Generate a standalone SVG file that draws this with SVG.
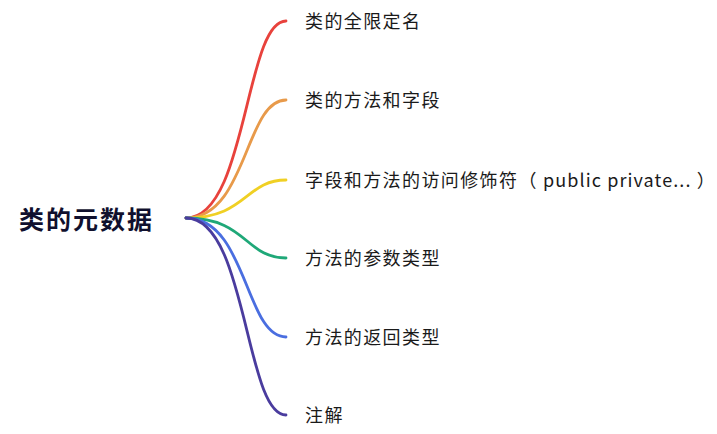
<svg xmlns="http://www.w3.org/2000/svg" width="717" height="434" viewBox="0 0 717 434">
<style>
.lbl{font-family:"Noto Sans CJK SC","Noto Sans",sans-serif;font-size:18px;letter-spacing:1.4px;fill:#1a1a1a}
.lat{letter-spacing:1.1px}
.root{font-family:"Noto Sans CJK SC","Noto Sans",sans-serif;font-size:25px;font-weight:bold;letter-spacing:2px;fill:#10102e}
.br{fill:none;stroke-width:2.8;stroke-linecap:round}
</style>
<rect width="717" height="434" fill="#ffffff"/>
<g id="connectors">
<path class="br" stroke="#e8423c" d="M186,218 C247,218 245,21 286,21"/>
<path class="br" stroke="#e89a4a" d="M186,218 C247,218 245,100 286,100"/>
<path class="br" stroke="#f0d024" d="M186,218 C247,218 245,180 286,180"/>
<path class="br" stroke="#1fa878" d="M186,218 C247,218 245,258 286,258"/>
<path class="br" stroke="#4a6ee0" d="M186,218 C247,218 245,337 286,337"/>
<path class="br" stroke="#4a3c9e" d="M186,218 C247,218 245,415 286,415"/>
</g>
<g id="root"><text class="root" x="19" y="228.5">类的元数据</text></g>
<g id="n1"><text class="lbl" x="305" y="27.5">类的全限定名</text></g>
<g id="n2"><text class="lbl" x="305" y="107">类的方法和字段</text></g>
<g id="n3"><text class="lbl" x="305" y="187">字段和方法的访问修饰符（<tspan class="lat"> public private... </tspan>）</text></g>
<g id="n4"><text class="lbl" x="305" y="264.5">方法的参数类型</text></g>
<g id="n5"><text class="lbl" x="305" y="343.5">方法的返回类型</text></g>
<g id="n6"><text class="lbl" x="305" y="421.5">注解</text></g>
</svg>
